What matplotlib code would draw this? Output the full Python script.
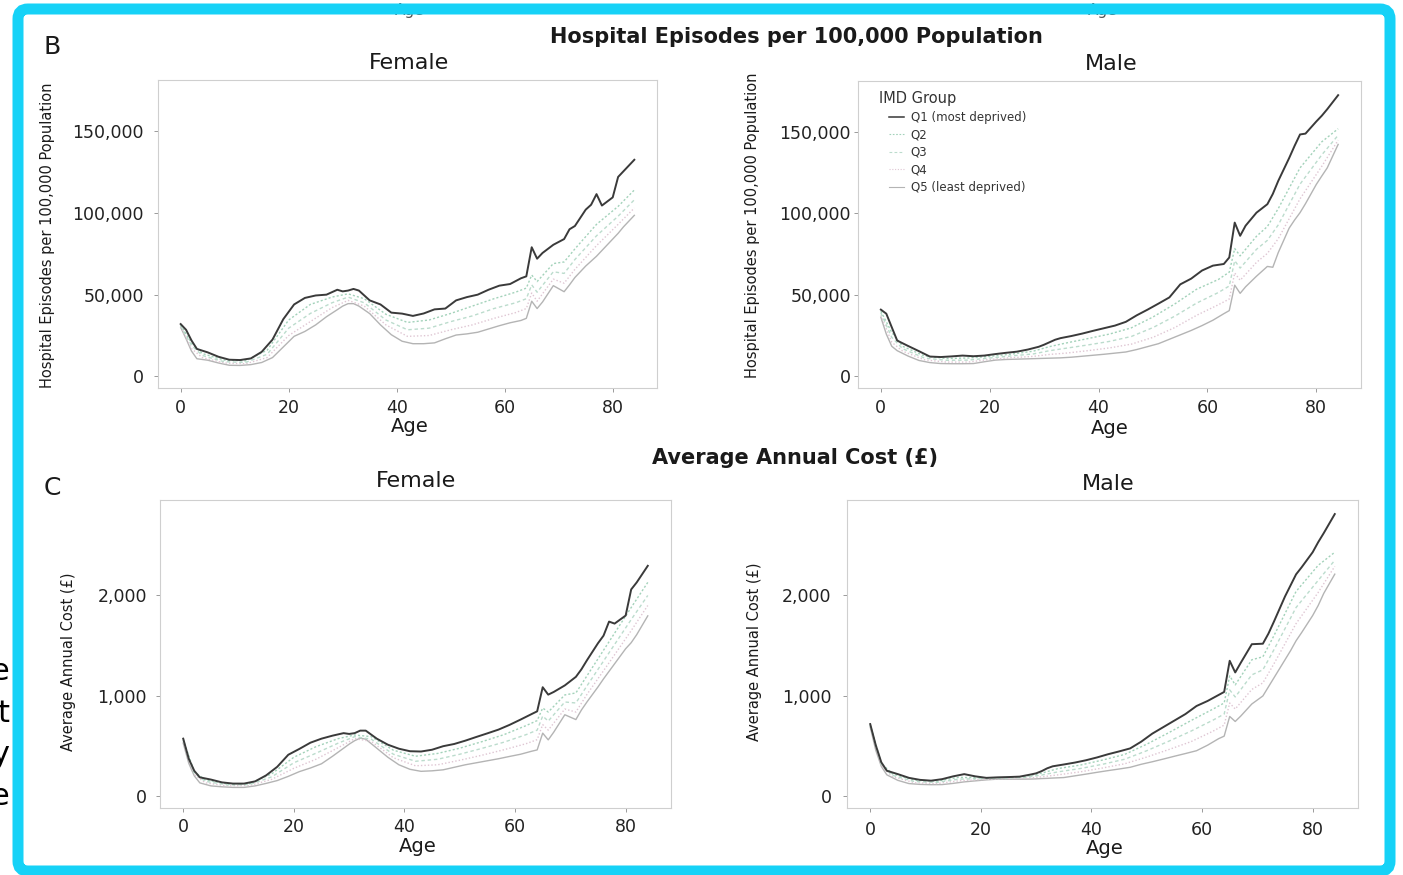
import matplotlib
matplotlib.use("Agg")
import matplotlib.pyplot as plt
from matplotlib.patches import FancyBboxPatch
from matplotlib.transforms import IdentityTransform
from matplotlib.lines import Line2D
from matplotlib.ticker import FuncFormatter

# ---------------- data ----------------
ages = [0, 1, 2, 3, 5, 7, 9, 11, 13, 15, 17, 19, 21, 23, 25, 27, 29, 30, 31, 32, 33, 35, 37, 39, 41,
        43, 45, 47, 49, 51, 53, 55, 57, 59, 61, 63, 64, 65, 66, 67, 69, 71, 72, 73, 75, 76, 77, 78,
        80, 81, 82, 84]
ages_mid = [0, 2, 4, 8, 12, 16, 20, 24, 28, 31, 34, 38, 42, 46, 50, 54, 58, 62, 64, 65, 66, 69, 71,
            73, 77, 81, 84]

groups = ["Q1 (most deprived)", "Q2", "Q3", "Q4", "Q5 (least deprived)"]

# Hospital episodes per 100,000 - Female
hosp_f_q1 = [32000, 28500, 22000, 16800, 14700, 12000, 10200, 10000, 11000, 15000, 22500, 35000, 44000,
             48000, 49500, 50000, 53000, 52000, 52500, 53500, 52500, 46500, 44000, 39000, 38400, 37000,
             38500, 41000, 41500, 46500, 48500, 50000, 53000, 55500, 56500, 60000, 61200, 79000, 72000,
             75500, 80500, 84000, 90000, 92000, 102000, 105000, 111500, 104500, 109500, 122000, 125500,
             132500]
hosp_f_q2 = [31500, 20500, 14000, 10000, 9500, 16000, 34500, 44000, 48500, 50500, 47500, 38000, 33000,
             34500, 38500, 43000, 47500, 51500, 54000, 62000, 58000, 69000, 70000, 78000, 93000, 104000,
             114000]
hosp_f_q3 = [31000, 19000, 12800, 9000, 8500, 13500, 29500, 38500, 45000, 48500, 45000, 34500, 28500,
             29500, 33500, 37000, 41500, 45000, 47500, 56000, 51500, 64000, 63000, 71500, 86000, 98000,
             108000]
hosp_f_q4 = [30500, 17000, 11500, 8200, 7700, 11500, 25000, 33500, 42000, 46500, 43000, 31500, 24500,
             25000, 28500, 31500, 35500, 39000, 41500, 51000, 46000, 59500, 57000, 65500, 80000, 93000,
             103000]
hosp_f_q5 = [30000, 23000, 15500, 10800, 9900, 8200, 6800, 6700, 7200, 8500, 11500, 18000, 24500, 27500,
             31500, 36500, 40800, 43000, 44500, 44500, 43000, 38400, 31500, 25500, 21500, 20000, 20000,
             20500, 23000, 25300, 26000, 27000, 29000, 31000, 32800, 34200, 35500, 46000, 41500, 45500,
             55500, 51800, 56000, 60500, 67500, 70500, 73500, 77000, 84000, 87500, 91500, 98500]

# Hospital episodes per 100,000 - Male
hosp_m_q1 = [41000, 38500, 30200, 22000, 18700, 15500, 12200, 11900, 12300, 12800, 12400, 12800, 13700,
             14500, 15200, 16500, 18200, 19500, 21000, 22500, 23500, 24800, 26300, 28000, 29600, 31200,
             33500, 37500, 41000, 44700, 48500, 56500, 60000, 65000, 68000, 69000, 73000, 94400, 86300,
             92500, 100500, 105700, 112000, 120000, 134000, 141500, 148500, 149000, 156500, 160000,
             164000, 172600]
hosp_m_q2 = [40000, 27000, 18500, 12600, 11000, 11300, 12300, 13700, 15500, 18300, 20500, 23200, 26000,
             29800, 36500, 44500, 53500, 59500, 64000, 78500, 74000, 86000, 92000, 103000, 128000, 144000,
             152000]
hosp_m_q3 = [39000, 24000, 17000, 11300, 9900, 10000, 11300, 12600, 13800, 15800, 17300, 19300, 21500,
             24500, 30000, 37000, 45000, 51500, 55500, 71000, 66500, 78000, 83500, 93000, 118000, 136000,
             148000]
hosp_m_q4 = [37500, 21000, 15500, 10200, 8800, 8800, 10400, 11500, 12300, 13500, 14300, 15800, 17500,
             19800, 24000, 30000, 37500, 44000, 47500, 63500, 59000, 70000, 75500, 84500, 109000, 129000,
             145000]
hosp_m_q5 = [36300, 26000, 18500, 15800, 12500, 9800, 8500, 7900, 7800, 7800, 7900, 9000, 10000, 10400,
             10600, 10800, 11000, 11100, 11200, 11300, 11400, 11800, 12400, 13000, 13600, 14300, 15000,
             16500, 18300, 20100, 22800, 25500, 28200, 31200, 34500, 38500, 40400, 56000, 51000, 55000,
             61500, 67500, 67000, 76000, 91000, 96000, 100500, 106000, 117900, 123000, 128000, 142400]

# Average annual cost (GBP) - Female
cost_f_q1 = [575, 375, 255, 190, 168, 140, 128, 128, 150, 210, 295, 415, 473, 535, 575, 605, 630, 622,
             630, 655, 655, 575, 515, 475, 450, 447, 465, 500, 522, 555, 592, 628, 665, 712, 765, 820,
             847, 1087, 1013, 1040, 1105, 1190, 1265, 1355, 1525, 1600, 1740, 1720, 1800, 2060, 2130, 2295]
cost_f_q2 = [565, 245, 165, 125, 128, 225, 390, 495, 575, 612, 595, 460, 400, 428, 480, 545, 615, 705,
             755, 880, 840, 1010, 1030, 1200, 1540, 1880, 2130]
cost_f_q3 = [555, 230, 150, 115, 118, 195, 335, 430, 530, 595, 570, 420, 350, 370, 420, 478, 540, 615,
             660, 800, 750, 940, 930, 1100, 1430, 1760, 2000]
cost_f_q4 = [540, 218, 135, 105, 108, 170, 280, 370, 485, 575, 548, 385, 305, 315, 360, 410, 465, 525,
             565, 715, 660, 870, 840, 1015, 1330, 1650, 1900]
cost_f_q5 = [530, 330, 205, 135, 105, 96, 90, 90, 105, 130, 158, 200, 247, 283, 325, 400, 480, 520, 555,
             580, 570, 480, 390, 315, 270, 250, 255, 265, 290, 315, 335, 355, 375, 398, 420, 450, 463,
             630, 563, 640, 813, 765, 860, 940, 1090, 1170, 1245, 1320, 1470, 1530, 1610, 1797]

# Average annual cost (GBP) - Male
cost_m_q1 = [720, 510, 340, 256, 222, 185, 165, 157, 172, 200, 222, 200, 185, 190, 193, 197, 218, 230,
             252, 280, 300, 318, 337, 360, 388, 420, 448, 478, 545, 625, 690, 755, 820, 900, 950, 1010,
             1040, 1350, 1234, 1330, 1515, 1520, 1620, 1740, 1990, 2100, 2210, 2280, 2430, 2530, 2620, 2810]
cost_m_q2 = [712, 330, 225, 162, 152, 190, 185, 187, 198, 232, 278, 312, 362, 418, 520, 635, 755, 870,
             930, 1200, 1110, 1360, 1390, 1600, 2040, 2300, 2430]
cost_m_q3 = [705, 318, 210, 148, 140, 172, 177, 182, 189, 213, 245, 278, 320, 370, 455, 550, 650, 760,
             820, 1060, 990, 1210, 1260, 1460, 1880, 2150, 2350]
cost_m_q4 = [698, 308, 198, 136, 128, 155, 168, 177, 180, 195, 215, 245, 283, 325, 392, 467, 545, 650,
             710, 930, 870, 1065, 1130, 1320, 1720, 2030, 2290]
cost_m_q5 = [690, 460, 300, 215, 160, 128, 120, 117, 118, 130, 145, 155, 165, 172, 172, 172, 173, 175,
             178, 180, 183, 188, 205, 222, 240, 257, 273, 290, 320, 345, 372, 400, 427, 455, 510, 575,
             600, 796, 746, 800, 920, 1000, 1090, 1180, 1360, 1450, 1549, 1630, 1800, 1900, 2020, 2212]

x_ticks = [0, 20, 40, 60, 80]
hosp_ticks = [0, 50000, 100000, 150000]
cost_ticks = [0, 1000, 2000]

# ---------------- figure ----------------
W, H = 1403, 875
plt.rcParams['font.family'] = ['DejaVu Sans']
fig = plt.figure(figsize=(W / 100, H / 100), dpi=100)
fig.patch.set_facecolor('white')


def fx(x):
    return x / W


def fy(y):
    return 1 - y / H


def add_axes(l, t, r, b):
    return fig.add_axes([fx(l), fy(b), (r - l) / W, (b - t) / H])


styles = {
    0: dict(color='#3a3a3a', lw=1.4, ls='-', zorder=6),
    1: dict(color='#a3d2ba', lw=1.0, ls=(0, (1.5, 1.5)), zorder=5),
    2: dict(color='#bcdccd', lw=1.0, ls=(0, (2.5, 2)), zorder=4),
    3: dict(color='#dfc6d3', lw=1.0, ls=(0, (1, 1.5)), zorder=3),
    4: dict(color='#b4b4b4', lw=1.0, ls='-', zorder=2),
}


def draw_panel(ax, series, ylim, yticks, ypad, xpad):
    xs = [ages, ages_mid, ages_mid, ages_mid, ages]
    for i in [4, 3, 2, 1, 0]:
        ax.plot(xs[i], series[i], **styles[i])
    ax.set_xlim(-4.2, 88.2)
    ax.set_ylim(*ylim)
    ax.set_xticks(x_ticks)
    ax.set_yticks(yticks)
    ax.yaxis.set_major_formatter(FuncFormatter(lambda v, p: f"{int(round(v)):,}"))
    for s in ax.spines.values():
        s.set_color('#cfcfcf')
        s.set_linewidth(0.8)
    ax.tick_params(axis='both', length=3, width=0.6, color='#8a8a8a', labelsize=12.5,
                   labelcolor='#222222')
    ax.tick_params(axis='y', pad=ypad)
    ax.tick_params(axis='x', pad=xpad)
    ax.set_facecolor('white')


ax_bf = add_axes(158, 80, 657, 388)
ax_bm = add_axes(858, 81, 1361, 388)
ax_cf = add_axes(160, 500, 671, 808)
ax_cm = add_axes(847, 500, 1358, 808)

hosp_lim = (-7100, 181300)
cost_lim = (-115, 2950)
draw_panel(ax_bf, [hosp_f_q1, hosp_f_q2, hosp_f_q3, hosp_f_q4, hosp_f_q5], hosp_lim, hosp_ticks, 7.2, 5)
draw_panel(ax_bm, [hosp_m_q1, hosp_m_q2, hosp_m_q3, hosp_m_q4, hosp_m_q5], hosp_lim, hosp_ticks, 2.2, 5)
draw_panel(ax_cf, [cost_f_q1, cost_f_q2, cost_f_q3, cost_f_q4, cost_f_q5], cost_lim, cost_ticks, 6.5, 4.3)
draw_panel(ax_cm, [cost_m_q1, cost_m_q2, cost_m_q3, cost_m_q4, cost_m_q5], cost_lim, cost_ticks, 8, 6.5)

# legend
handles = [Line2D([0], [0], color=styles[i]['color'], lw=styles[i]['lw'] * 0.8, ls=styles[i]['ls'])
           for i in range(5)]
ax_bm.legend(handles, groups, loc='upper left', bbox_to_anchor=(fx(889), fy(111)),
             bbox_transform=fig.transFigure, frameon=False, fontsize=8.5, handlelength=1.3,
             handletextpad=0.55, labelspacing=0.38, borderpad=0, borderaxespad=0,
             labelcolor='#333333')
fig.text(fx(879), fy(99), "IMD Group", ha='left', va='center', fontsize=10.5, color='#333333')


def T(x, y, s, **kw):
    kw.setdefault('ha', 'center')
    kw.setdefault('va', 'center')
    kw.setdefault('color', '#1a1a1a')
    fig.text(fx(x), fy(y), s, **kw)


T(44, 47, "B", ha='left', fontsize=18)
T(44, 488, "C", ha='left', fontsize=18)
T(796, 37, "Hospital Episodes per 100,000 Population", fontsize=15, fontweight='bold')
T(795, 458, "Average Annual Cost (£)", fontsize=15, fontweight='bold')
T(409, 63, "Female", fontsize=16)
T(1111, 64, "Male", fontsize=16)
T(416, 481, "Female", fontsize=16)
T(1108, 484, "Male", fontsize=16)
T(410, 427, "Age", fontsize=14)
T(1110, 429, "Age", fontsize=14)
T(418, 847, "Age", fontsize=14)
T(1105, 849, "Age", fontsize=14)
T(48, 235, "Hospital Episodes per 100,000 Population", rotation=90, fontsize=10.5)
T(752, 225, "Hospital Episodes per 100,000 Population", rotation=90, fontsize=10.5)
T(68, 662, "Average Annual Cost (£)", rotation=90, fontsize=10.5)
T(755, 652, "Average Annual Cost (£)", rotation=90, fontsize=10.5)

# fragments of neighbouring page text cut by the screenshot (mostly hidden behind the frame)
T(410, 15.5, "Age", va='baseline', fontsize=11, zorder=0.5, color='#555555')
T(1103, 15.5, "Age", va='baseline', fontsize=11, zorder=0.5, color='#555555')
for yb, ch in zip([680, 722, 763, 805], ["e", "t", "y", "e"]):
    fig.text(fx(9), fy(yb), ch, ha='right', va='baseline', fontsize=22, color='black')

# cyan frame of the screenshot
frame = FancyBboxPatch((18, 4), 1372, 862, boxstyle="round,pad=0,rounding_size=10",
                       transform=IdentityTransform(), facecolor='none', edgecolor='#16d2f7',
                       linewidth=11 * 72 / 100, zorder=10)
fig.add_artist(frame)

fig.savefig("out.png", dpi=100, facecolor='white')
